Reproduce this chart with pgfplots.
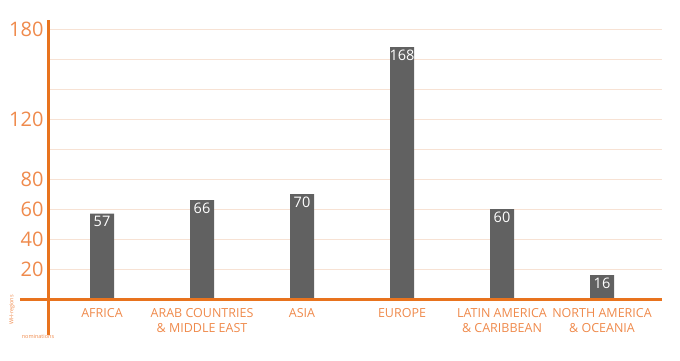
\documentclass[border=0pt]{standalone}
\usepackage{pgfplots}
\pgfplotsset{compat=1.18}
\usepackage{fontspec}
\setmainfont{Open Sans}
\definecolor{axor}{HTML}{E8731E}
\definecolor{txor}{HTML}{EF8A4C}
\definecolor{grd}{HTML}{F7E2D4}
\definecolor{barc}{HTML}{616161}
\begin{document}
\begin{tikzpicture}[x=1pt,y=1pt]
\useasboundingbox (0,0) rectangle (680,360);
\begin{axis}[
 at={(48pt,61pt)}, anchor=south west, scale only axis, width=614pt, height=270pt,
 xmin=-0.54, xmax=5.6, ymin=0, ymax=180,
 axis line style={draw=none}, clip=false,
 ytick={20,40,...,180}, yticklabels={20,40,60,80,,120,,,180},
 ymajorgrids, grid style={grd, line width=1pt},
 major tick length=0pt,
 xtick={0,...,5},
 xticklabels={AFRICA, {ARAB COUNTRIES\\\& MIDDLE EAST}, ASIA, EUROPE, {LATIN AMERICA\\\& CARIBBEAN}, {NORTH AMERICA\\\& OCEANIA}},
 xticklabel style={align=center, font=\fontsize{12.5}{15}\selectfont, text=txor, anchor=north, yshift=-6pt},
 yticklabel style={font=\fontsize{20}{20}\selectfont, text=txor, xshift=-1pt},
 /pgf/number format/assume math mode=true,
]
\addplot[ybar, bar width=24pt, fill=barc, draw=none, nodes near coords,
  every node near coord/.append style={anchor=north, text=white, font=\fontsize{14.5}{14.5}\selectfont, inner sep=2.5pt}]
  coordinates {(0,57)(1,66)(2,70)(3,168)(4,60)(5,16)};
\draw[axor, line width=3pt] (axis cs:-0.82,0) -- (axis cs:5.6,0);
\draw[axor, line width=3pt] (axis cs:-0.54,-24) -- (axis cs:-0.54,186);
\node[rotate=90, font=\fontsize{5.5}{5.5}\selectfont, text=txor] at (axis cs:-0.90,-7.3) {WH-regions};
\node[font=\fontsize{5.5}{5.5}\selectfont, text=txor] at (axis cs:-0.64,-24.7) {nominations};
\end{axis}
\end{tikzpicture}
\end{document}
